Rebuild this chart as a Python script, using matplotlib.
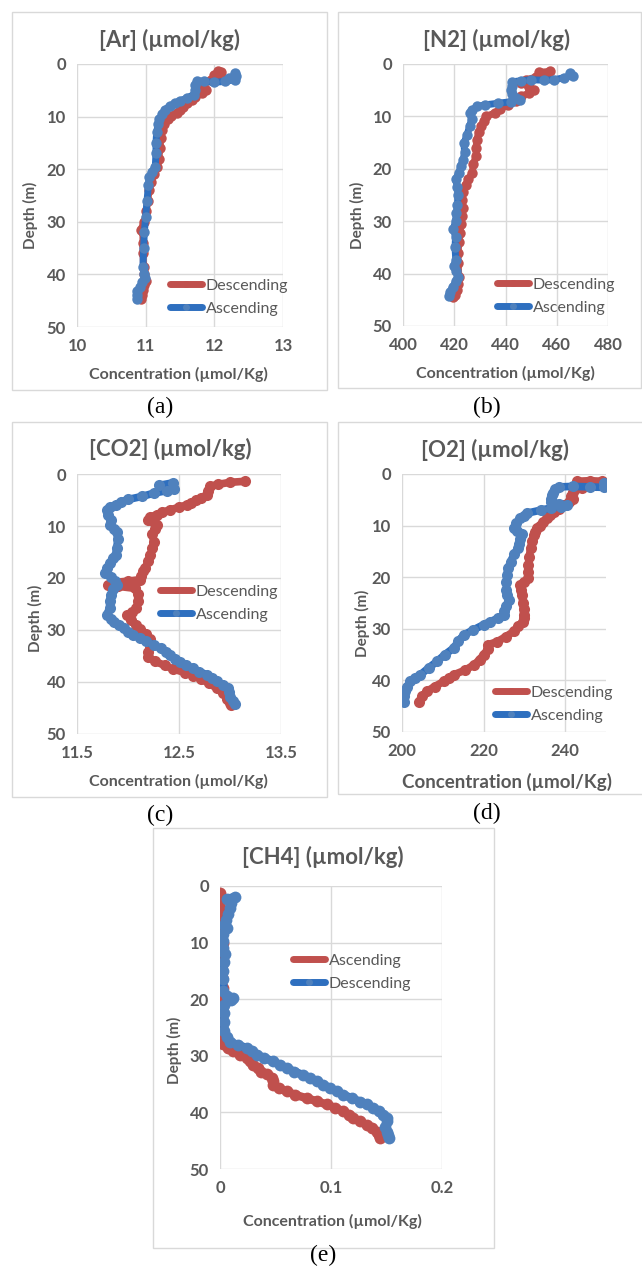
import matplotlib
matplotlib.use("Agg")
import matplotlib.pyplot as plt
from matplotlib.patches import Rectangle

# ---- data: depth (m) and concentration ----
ar_desc_depth = [1.4, 1.5, 2.0, 2.5, 3.0, 3.5, 4.2, 5.0, 5.6, 6.2, 6.8, 7.5, 8.2, 8.8, 9.3, 9.8, 10.5,
                 11.5, 12.5, 14.0, 16.0, 18.0, 19.5, 21.0, 22.5, 24.0, 26.0, 28.0, 30.0, 31.5, 32.0,
                 34.0, 36.0, 38.5, 40.0, 41.2, 42.0, 43.0, 44.0, 44.6]
ar_desc_conc = [12.05, 12.1, 12.0, 12.1, 11.95, 11.85, 11.8, 11.88, 11.82, 11.72, 11.68, 11.6, 11.55,
                11.5, 11.45, 11.37, 11.32, 11.27, 11.24, 11.22, 11.21, 11.19, 11.17, 11.12, 11.08,
                11.05, 11.03, 11.01, 10.98, 10.93, 10.96, 10.96, 10.96, 10.97, 10.98, 11.0, 10.98,
                10.96, 10.95, 10.93]
ar_asc_depth = [1.8, 2.2, 2.6, 3.0, 3.3, 3.5, 3.3, 3.2, 4.0, 5.0, 5.8, 6.5, 7.0, 7.5, 8.0, 8.7, 9.5,
                10.5, 11.5, 13.0, 15.0, 17.0, 19.5, 20.5, 21.5, 23.0, 26.0, 29.0, 32.0, 35.0, 38.5,
                40.0, 40.6, 41.5, 42.4, 43.2, 44.0, 44.6]
ar_asc_conc = [12.3, 12.32, 12.22, 12.3, 12.15, 12.0, 11.85, 11.75, 11.72, 11.72, 11.7, 11.6, 11.5,
               11.42, 11.35, 11.28, 11.24, 11.2, 11.18, 11.16, 11.15, 11.15, 11.14, 11.09, 11.05,
               11.04, 11.02, 11.0, 10.98, 10.97, 10.96, 10.98, 10.99, 10.95, 10.92, 10.88, 10.87,
               10.88]

n2_desc_depth = [1.4, 1.6, 2.0, 2.5, 3.0, 3.6, 4.3, 5.0, 5.6, 6.2, 7.0, 7.8, 8.5, 9.3, 10.0, 10.8,
                 11.9, 13.0, 14.5, 16.0, 17.6, 19.0, 20.8, 22.0, 23.0, 24.5, 26.0, 27.5, 29.0, 30.5,
                 32.3, 34.0, 36.0, 38.0, 40.6, 42.0, 43.2, 44.0, 44.5]
n2_desc_conc = [457.5, 453, 456, 452, 448, 446, 449, 451, 449, 446, 444, 441, 438, 436, 432.5, 431.5,
                430.5, 429.5, 428.8, 428.5, 428.5, 427.5, 427, 425.5, 424.5, 423.5, 423, 423.5, 423,
                422.5, 422.3, 421.8, 421.5, 421.5, 421.8, 421.5, 421, 420.3, 419.7]
n2_asc_depth = [1.8, 2.2, 2.6, 3.0, 3.1, 3.0, 3.2, 3.4, 4.2, 5.0, 5.8, 6.4, 6.8, 7.2, 7.5, 7.8, 8.1,
                8.8, 9.4, 10.5, 11.9, 13.5, 15.1, 16.8, 18.3, 19.5, 20.8, 22.0, 23.4, 25.0, 27.0,
                28.5, 30.0, 31.5, 33.0, 35.0, 37.4, 38.5, 39.5, 40.6, 41.5, 42.5, 43.5, 44.2]
n2_asc_conc = [465, 466.5, 463, 459, 455, 450, 446, 442.5, 442.5, 442.3, 442.5, 444, 445.5, 442, 437,
               432, 429, 427, 426.2, 426.8, 426, 425, 423.8, 424, 423.5, 422.5, 421.8, 420.5, 421.2,
               421.5, 421.2, 420.8, 420.5, 419.7, 420.5, 420.3, 420.6, 419.8, 420.5, 421.6, 420.5,
               419.5, 418.2, 417.8]

co2_desc_depth = [1.4, 1.6, 2.0, 2.4, 3.2, 4.0, 4.6, 5.0, 5.5, 5.9, 6.4, 6.9, 7.4, 7.8, 8.3, 8.8,
                  9.3, 9.8, 10.5, 11.5, 13.0, 14.2, 15.5, 16.8, 18.0, 18.7, 19.6, 20.3, 20.6, 20.9,
                  21.3, 21.6, 22.0, 23.0, 24.5, 25.8, 26.6, 27.2, 28.0, 29.0, 29.8, 30.8, 31.8,
                  33.0, 34.2, 35.2, 36.0, 36.8, 37.5, 38.2, 38.8, 39.5, 40.2, 41.2, 42.2, 43.2,
                  44.0, 44.5]
co2_desc_conc = [13.15, 13.0, 12.88, 12.8, 12.78, 12.77, 12.72, 12.67, 12.62, 12.58, 12.5, 12.41,
                 12.33, 12.28, 12.22, 12.2, 12.25, 12.28, 12.26, 12.24, 12.25, 12.24, 12.22, 12.2,
                 12.17, 12.15, 12.13, 12.12, 12.0, 11.85, 11.8, 11.9, 12.07, 12.1, 12.1, 12.08,
                 12.04, 11.99, 12.03, 12.08, 12.12, 12.18, 12.22, 12.22, 12.2, 12.2, 12.26, 12.36,
                 12.44, 12.56, 12.64, 12.72, 12.79, 12.87, 12.93, 12.97, 13.0, 13.01]
co2_asc_depth = [1.7, 2.2, 2.8, 3.2, 3.7, 4.3, 4.9, 5.4, 5.9, 6.4, 6.9, 7.8, 8.8, 9.8, 10.5, 11.2,
                 12.5, 14.2, 15.5, 16.2, 17.2, 18.1, 19.1, 19.8, 20.5, 21.3, 22.2, 23.2, 24.5, 25.8,
                 27.1, 27.8, 28.4, 29.1, 29.7, 30.3, 30.9, 31.6, 32.2, 32.9, 33.5, 34.2, 34.8,
                 35.5, 36.1, 36.8, 37.4, 38.0, 38.6, 39.3, 39.9, 40.6, 41.2, 42.0, 42.8, 43.6, 44.3]
co2_asc_conc = [12.44, 12.3, 12.45, 12.38, 12.25, 12.14, 12.0, 11.93, 11.88, 11.82, 11.79, 11.8,
                11.83, 11.82, 11.86, 11.89, 11.9, 11.89, 11.88, 11.85, 11.82, 11.79, 11.77, 11.83,
                11.87, 11.89, 11.85, 11.83, 11.82, 11.82, 11.79, 11.83, 11.86, 11.91, 11.96, 12.0,
                12.05, 12.12, 12.18, 12.25, 12.32, 12.37, 12.41, 12.46, 12.51, 12.57, 12.64, 12.7,
                12.77, 12.82, 12.87, 12.93, 12.98, 12.99, 13.0, 13.03, 13.05]

o2_desc_depth = [1.4, 1.3, 1.4, 1.8, 2.1, 2.8, 3.4, 4.2, 4.9, 5.5, 6.0, 6.7, 7.3, 8.0, 8.6, 9.3, 10.0,
                 10.5, 11.2, 11.8, 13.0, 14.4, 16.0, 17.6, 19.0, 20.2, 20.9, 21.5, 22.5, 23.4, 25.0,
                 26.2, 27.3, 28.0, 28.6, 29.5, 30.5, 31.5, 32.5, 33.1, 34.0, 35.0, 36.0, 37.0,
                 38.0, 38.9, 39.5, 40.2, 41.2, 42.1, 43.0, 44.1]
o2_desc_conc = [243, 246, 249, 248.5, 247.5, 244, 242, 241.5, 241.8, 241, 239.6, 238.5, 237.2,
                236.3, 235.5, 234.5, 233.8, 233.1, 232.6, 232.3, 231.9, 231.5, 231.2, 231.0, 230.9,
                231.0, 230.0, 229.0, 229.2, 229.4, 229.6, 229.8, 229.8, 230.0, 229.6, 228.5, 227.4,
                225.5, 223.3, 221.0, 221.0, 220.0, 219.0, 217.6, 215.5, 212.7, 211.5, 210.2, 208.0,
                206.1, 205.0, 204.1]
o2_asc_depth = [1.8, 2.2, 2.6, 2.5, 2.4, 2.5, 3.0, 3.6, 4.1, 4.8, 5.4, 5.8, 6.0, 6.3, 6.6, 7.0, 7.6,
                8.1, 8.6, 9.5, 10.5, 11.0, 11.6, 12.5, 13.5, 14.4, 15.5, 17.0, 18.3, 19.5, 21.0,
                22.5, 23.4, 24.5, 25.5, 26.5, 27.3, 28.0, 28.6, 29.2, 30.2, 31.2, 32.4, 33.7,
                35.0, 36.3, 37.6, 38.9, 39.6, 40.2, 41.2, 42.1, 43.1, 44.1]
o2_asc_conc = [249.4, 250, 249.5, 246, 242, 238.5, 237.5, 236.9, 236.8, 236.5, 236.5, 238.5,
               240.4, 239, 236.5, 234, 230.6, 229.8, 229, 228, 227.4, 228.2, 229.5, 229, 228.6,
               228.4, 227.5, 226.6, 226.0, 225.7, 225.6, 225.6, 225.8, 226.2, 225.5, 225.1, 224.9,
               223.5, 221.6, 220.0, 217.5, 215.1, 213.8, 212.7, 210.5, 208.6, 206.5, 204.5, 203.2,
               202.0, 201.3, 200.8, 200.5, 200.4]

# CH4 legend labels are swapped in the original: red = "Ascending"
ch4_red_depth = [1.3, 2.0, 4.0, 6.0, 8.0, 10.0, 12.0, 14.0, 16.0, 18.0, 20.0, 22.0, 24.0, 26.0, 27.0,
                 28.0, 28.6, 29.2, 29.8, 30.4, 31.0, 31.6, 32.2, 32.8, 33.3, 33.9, 34.5, 35.1, 35.7,
                 36.3, 36.9, 37.5, 38.0, 38.6, 39.2, 39.8, 40.4, 41.0, 41.6, 42.2, 42.8, 43.4,
                 44.0, 44.5]
ch4_red_conc = [0.0, 0.001, 0.001, 0.0015, 0.002, 0.0025, 0.002, 0.0018, 0.002, 0.003, 0.002,
                0.0015, 0.001, 0.0012, 0.0015, 0.003, 0.007, 0.012, 0.018, 0.024, 0.027, 0.03,
                0.034, 0.037, 0.042, 0.047, 0.048, 0.048, 0.053, 0.06, 0.068, 0.078, 0.087, 0.096,
                0.104, 0.111, 0.116, 0.12, 0.126, 0.132, 0.137, 0.141, 0.143, 0.144]
ch4_blue_depth = [1.9, 2.3, 3.0, 3.9, 5.0, 6.0, 6.9, 7.5, 8.5, 9.8, 11.0, 12.0, 13.5, 15.0, 16.5,
                  18.6, 19.5, 19.8, 20.2, 21.0, 22.5, 24.0, 25.7, 26.7, 27.5, 28.1, 28.6, 29.2,
                  29.8, 30.4, 31.0, 31.6, 32.2, 32.8, 33.4, 33.9, 34.5, 35.1, 35.7, 36.3, 36.9,
                  37.5, 38.1, 38.6, 39.2, 39.8, 40.4, 41.0, 41.6, 42.5, 43.4, 44.0, 44.5]
ch4_blue_conc = [0.0135, 0.006, 0.01, 0.009, 0.007, 0.005, 0.004, 0.006, 0.003, 0.003, 0.003,
                 0.0045, 0.004, 0.003, 0.003, 0.003, 0.006, 0.012, 0.01, 0.004, 0.004, 0.004, 0.004,
                 0.006, 0.009, 0.016, 0.024, 0.029, 0.033, 0.04, 0.048, 0.054, 0.06, 0.067, 0.075,
                 0.081, 0.087, 0.093, 0.099, 0.105, 0.111, 0.119, 0.126, 0.132, 0.138, 0.143,
                 0.147, 0.15, 0.15, 0.149, 0.15, 0.151, 0.152]

W, H = 642, 1267
RED = "#C0504D"
BLUE = "#4F81BD"
BLUE_LINE = "#2E6FBF"
GRAY = "#595959"
GRID = "#D9D9D9"
SANS = "Lato"
SERIF = "Liberation Serif"

fig = plt.figure(figsize=(W / 100, H / 100), dpi=100)


def fx(x):
    return x / W


def fy(y):
    return 1 - y / H


def add_box(l, t, r, b):
    fig.add_artist(Rectangle((fx(l), fy(b)), (r - l) / W, (b - t) / H,
                             transform=fig.transFigure, fill=False,
                             edgecolor=GRID, linewidth=1.0))


def fig_text(x, y, s, **kw):
    fig.text(fx(x), fy(y), s, ha="center", va="center", **kw)


def make_panel(rect, xlim, xticks, xticklabels, series, title, title_xy, xlabel_xy,
               ylabel_xy, legend_xy, caption, caption_xy, xlabel_size=11.5, lw=5.0, ms=7.5):
    l, t, r, b = rect
    ax = fig.add_axes([fx(l), fy(b), (r - l) / W, (b - t) / H])
    for depth, conc, color, line_color, label in series:
        ax.plot(conc, depth, color=line_color, lw=lw, solid_capstyle="round",
                solid_joinstyle="round", marker="o", ms=ms, mfc=color, mec=color,
                mew=0, label=label)
    ax.set_xlim(*xlim)
    ax.set_ylim(50, 0)
    ax.set_xticks(xticks)
    ax.set_xticklabels(xticklabels)
    ax.set_yticks([0, 10, 20, 30, 40, 50])
    ax.grid(True, color=GRID, lw=1.0)
    ax.set_axisbelow(True)
    for sp in ax.spines.values():
        sp.set_visible(False)
    ax.tick_params(length=0, labelsize=12, labelcolor=GRAY, pad=8)
    for lab in ax.get_xticklabels() + ax.get_yticklabels():
        lab.set_fontfamily(SANS)
        lab.set_fontweight("bold")
    leg = ax.legend(loc="center left", bbox_to_anchor=(fx(legend_xy[0]), fy(legend_xy[1])),
                    bbox_transform=fig.transFigure, frameon=False, borderpad=0,
                    borderaxespad=0, handlelength=2.0, handletextpad=0.25,
                    labelspacing=0.55, numpoints=1,
                    prop={"family": SANS, "size": 11.5})
    for txt in leg.get_texts():
        txt.set_color(GRAY)
    for h in leg.get_lines():
        h.set_markersize(5)
        h.set_linewidth(5)
    fig_text(*title_xy, title, fontsize=16, fontweight="bold", color=GRAY, family=SANS)
    fig_text(*xlabel_xy, "Concentration (µmol/Kg)", fontsize=xlabel_size, fontweight="bold",
             color=GRAY, family=SANS)
    fig_text(*ylabel_xy, "Depth (m)", fontsize=11, fontweight="bold", color=GRAY,
             family=SANS, rotation=90)
    fig_text(*caption_xy, caption, fontsize=17, color="black", family=SERIF)
    return ax


# panel frames
add_box(12, 12, 327, 390)
add_box(338, 12, 641, 388)
add_box(12, 422, 327, 797)
add_box(338, 422, 646, 794)
add_box(153, 828, 494, 1248)

# (a) Argon
make_panel((77, 64, 283, 327), (10, 13), [10, 11, 12, 13], ["10", "11", "12", "13"],
           [(ar_desc_depth, ar_desc_conc, RED, RED, "Descending"),
            (ar_asc_depth, ar_asc_conc, BLUE, BLUE_LINE, "Ascending")],
           "[Ar] (µmol/kg)", (170, 40), (178, 374), (30, 215), (170, 297),
           "(a)", (160, 407))

# (b) Nitrogen
make_panel((403, 64, 608, 326), (400, 480), [400, 420, 440, 460, 480],
           ["400", "420", "440", "460", "480"],
           [(n2_desc_depth, n2_desc_conc, RED, RED, "Descending"),
            (n2_asc_depth, n2_asc_conc, BLUE, BLUE_LINE, "Ascending")],
           "[N2] (µmol/kg)", (497, 40), (505, 373), (357, 215), (497, 296),
           "(b)", (487, 407))

# (c) Carbon dioxide
make_panel((77, 474, 281, 734), (11.5, 13.5), [11.5, 12.5, 13.5], ["11.5", "12.5", "13.5"],
           [(co2_desc_depth, co2_desc_conc, RED, RED, "Descending"),
            (co2_asc_depth, co2_asc_conc, BLUE, BLUE_LINE, "Ascending")],
           "[CO2] (µmol/kg)", (170, 449), (178, 781), (35, 618), (160, 603),
           "(c)", (160, 815), lw=5.5, ms=8)

# (d) Oxygen
make_panel((402, 474, 606, 732), (200, 250), [200, 220, 240], ["200", "220", "240"],
           [(o2_desc_depth, o2_desc_conc, RED, RED, "Descending"),
            (o2_asc_depth, o2_asc_conc, BLUE, BLUE_LINE, "Ascending")],
           "[O2] (µmol/kg)", (495, 450), (507, 782), (362, 623), (495, 704),
           "(d)", (487, 813), xlabel_size=13.5, lw=5.5, ms=8)

# (e) Methane
make_panel((220, 886, 442, 1169), (0, 0.2), [0, 0.1, 0.2], ["0", "0.1", "0.2"],
           [(ch4_red_depth, ch4_red_conc, RED, RED, "Ascending"),
            (ch4_blue_depth, ch4_blue_conc, BLUE, BLUE_LINE, "Descending")],
           "[CH4] (µmol/kg)", (323, 857), (332, 1221), (174, 1050), (293, 972),
           "(e)", (323, 1255), lw=6.0, ms=8.5)

fig.savefig("out.png", dpi=100, facecolor="white")
